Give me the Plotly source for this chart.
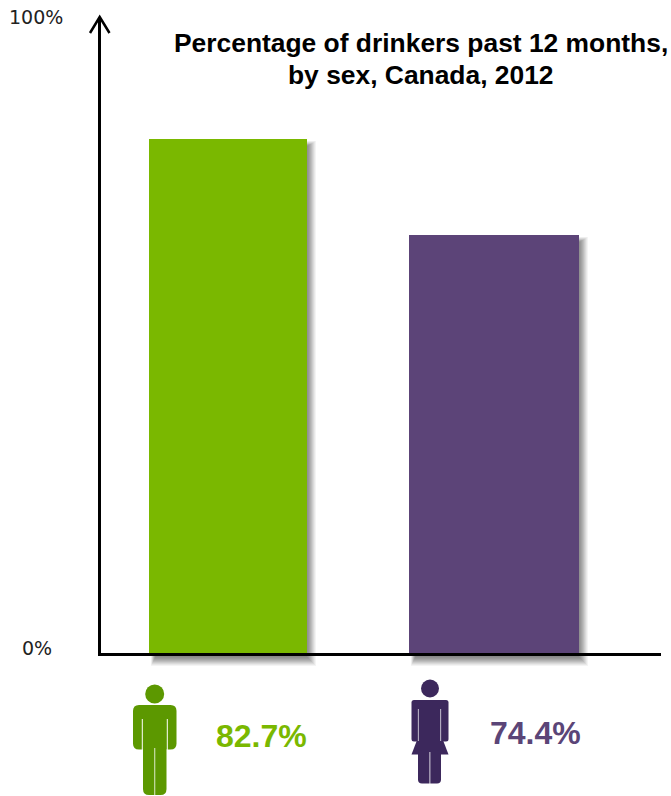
import plotly.graph_objects as go

# Chart content
categories = ["Men", "Women"]
drinker_pct = [82.7, 74.4]
value_labels = ["82.7%", "74.4%"]
axis_end_labels = ["0%", "100%"]
title_lines = ["Percentage of drinkers past 12 months,", "by sex, Canada, 2012"]

# Page and plot geometry, in pixels
W, H = 671, 796
PLOT_L, PLOT_R, PLOT_T, PLOT_B = 101, 661, 17, 653
CENTER_0, CENTER_STEP = 228, 266
BAR_WIDTHS_PX = [158, 170]

# Vertical scale: the baseline sits above zero, the drawing is schematic
Y_BASE = 38.255
PX_PER_UNIT = 11.565
Y_TOP = Y_BASE + (PLOT_B - PLOT_T) / PX_PER_UNIT

BAR_COLORS = ["#7ab800", "#5c4478"]
TEXT_COLORS = ["#7ab800", "#5b4577"]
ICON_COLORS = ["#5c9800", "#3c285c"]


def px(x):
    return x / W


def py(y):
    return 1 - y / H


def value_to_py(v):
    return PLOT_B - (v - Y_BASE) * PX_PER_UNIT


def rect(x0, y0, x1, y1, color, opacity=1.0, layer="below"):
    return dict(type="rect", xref="paper", yref="paper",
                x0=px(x0), x1=px(x1), y0=py(y0), y1=py(y1),
                fillcolor=color, opacity=opacity, line_width=0, layer=layer)


def rounded(x0, y0, x1, y1, r, color):
    path = (f"M{px(x0 + r)},{py(y0)} L{px(x1 - r)},{py(y0)} "
            f"Q{px(x1)},{py(y0)} {px(x1)},{py(y0 + r)} "
            f"L{px(x1)},{py(y1 - r)} Q{px(x1)},{py(y1)} {px(x1 - r)},{py(y1)} "
            f"L{px(x0 + r)},{py(y1)} Q{px(x0)},{py(y1)} {px(x0)},{py(y1 - r)} "
            f"L{px(x0)},{py(y0 + r)} Q{px(x0)},{py(y0)} {px(x0 + r)},{py(y0)} Z")
    return dict(type="path", xref="paper", yref="paper", path=path,
                fillcolor=color, line_width=0, layer="above")


def circle(cx, cy, r, color):
    return dict(type="circle", xref="paper", yref="paper",
                x0=px(cx - r), x1=px(cx + r), y0=py(cy + r), y1=py(cy - r),
                fillcolor=color, line_width=0, layer="above")


def polygon(points, color):
    path = "M" + " L".join(f"{px(x)},{py(y)}" for x, y in points) + " Z"
    return dict(type="path", xref="paper", yref="paper", path=path,
                fillcolor=color, line_width=0, layer="above")


def label(text, x, y, family, size, color):
    return dict(text=text, xref="paper", yref="paper", x=px(x), y=py(y),
                xanchor="center", yanchor="middle", align="center",
                showarrow=False, font=dict(family=family, size=size, color=color))


shapes = []

# Soft drop shadow behind each bar, stacked translucent rectangles
for i, v in enumerate(drinker_pct):
    cx = CENTER_0 + i * CENTER_STEP
    half = BAR_WIDTHS_PX[i] / 2
    top = value_to_py(v)
    for spread, alpha in ((10, 0.05), (9, 0.06), (8, 0.07), (7, 0.08), (6, 0.09),
                          (5, 0.09), (4, 0.09), (3, 0.09), (2, 0.08), (1, 0.08)):
        shapes.append(rect(cx - half + 7 - spread * 0.5, top + 8 - spread * 0.6,
                           cx + half + spread - 1, PLOT_B + 3 + spread,
                           "#303030", alpha))

# Male pictogram
c = ICON_COLORS[0]
shapes += [
    circle(154.7, 694, 9.5, c),
    rounded(133, 705, 176.5, 749.5, 6, c),
    rounded(143, 715, 166.5, 795, 6, c),
    rect(141.8, 719, 142.8, 750, "#ffffff", layer="above"),
    rect(166.8, 719, 167.8, 750, "#ffffff", layer="above"),
    rect(154.4, 748, 155.2, 796, "#ffffff", layer="above"),
]

# Female pictogram
c = ICON_COLORS[1]
shapes += [
    circle(430, 688.5, 9, c),
    rounded(411.5, 700, 448.5, 741.5, 2.5, c),
    polygon([(419, 735), (441, 735), (448.5, 754.5), (411.5, 754.5)], c),
    rounded(418, 750, 441, 783.5, 4, c),
    rect(417.9, 709, 418.6, 741, "#ffffff", layer="above"),
    rect(440.4, 709, 441.1, 741, "#ffffff", layer="above"),
    rect(429.5, 752, 430.3, 784, "#ffffff", layer="above"),
]

# Open arrowhead on the vertical axis
shapes.append(dict(
    type="path", xref="paper", yref="paper",
    path=f"M{px(90)},{py(33)} L{px(99.7)},{py(17)} L{px(109.5)},{py(33)}",
    line=dict(color="#000000", width=2.5), layer="above",
))

annotations = [
    label(f"<b>{title_lines[0]}</b>", 420.5, 43, "Liberation Sans", 26.4, "#000000"),
    label(f"<b>{title_lines[1]}</b>", 421, 75, "Liberation Sans", 26.4, "#000000"),
    label(axis_end_labels[0], 36.5, 648, "DejaVu Sans", 19, "#222222"),
    label(axis_end_labels[1], 36, 17, "DejaVu Sans", 19, "#222222"),
    label(f"<b>{value_labels[0]}</b>", 261.5, 736, "Liberation Sans", 32, TEXT_COLORS[0]),
    label(f"<b>{value_labels[1]}</b>", 535, 733, "Liberation Sans", 32, TEXT_COLORS[1]),
]

fig = go.Figure(go.Bar(
    x=categories,
    y=drinker_pct,
    width=[w / CENTER_STEP for w in BAR_WIDTHS_PX],
    marker=dict(color=BAR_COLORS, line_width=0),
    hoverinfo="x+y",
))

fig.update_layout(
    width=W, height=H,
    margin=dict(l=0, r=0, t=0, b=0),
    paper_bgcolor="#ffffff", plot_bgcolor="rgba(0,0,0,0)",
    showlegend=False,
    shapes=shapes,
    annotations=annotations,
    xaxis=dict(
        domain=[px(PLOT_L), px(PLOT_R)],
        type="category",
        range=[(PLOT_L - CENTER_0) / CENTER_STEP, (PLOT_R - CENTER_0) / CENTER_STEP],
        showticklabels=False, ticks="", showgrid=False, zeroline=False,
        showline=True, linecolor="#000000", linewidth=2.5,
    ),
    yaxis=dict(
        domain=[py(PLOT_B), py(PLOT_T)],
        range=[Y_BASE, Y_TOP],
        showticklabels=False, ticks="", showgrid=False, zeroline=False,
        showline=True, linecolor="#000000", linewidth=2.5,
    ),
)

fig.write_html("out.html", config=dict(displayModeBar=False))
